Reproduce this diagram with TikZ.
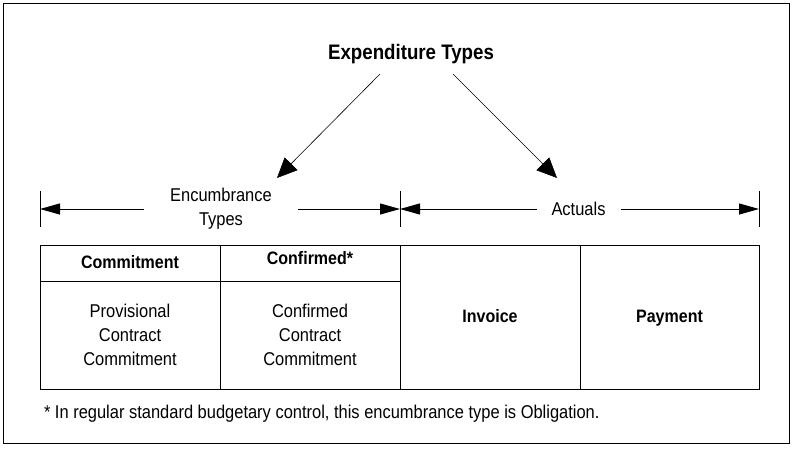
\documentclass[tikz,border=0pt]{standalone}
\usepackage{fontspec}
\setmainfont[FakeStretch=0.89]{Liberation Sans}
\usetikzlibrary{arrows.meta,calc}
\begin{document}
\begin{tikzpicture}[x=1pt,y=-1pt,
  every node/.style={inner sep=0pt,outer sep=0pt,text=black},
  reg/.style={font=\fontsize{18.5}{24}\selectfont},
  bld/.style={font=\fontsize{18}{24}\selectfont\bfseries,text height=13pt,text depth=4pt},
  cell/.style={draw,line width=1pt,anchor=north west},
  diag/.style={line width=0.6pt,-{Triangle[length=20pt,width=18pt]}},
  dim/.style={line width=1pt,-{Triangle[length=20pt,width=11pt]}},
  tick/.style={line width=1pt}]
\useasboundingbox (0,0) rectangle (797,455);
\draw[line width=1pt] (3,3) rectangle (789,443);
% title
\node[font=\fontsize{21}{24}\selectfont\bfseries,text height=15pt,text depth=5pt] (title) at (411,54) {Expenditure Types};
\coordinate (encTip) at (277,178);
\coordinate (actTip) at (557,178);
\draw[diag] ($(title.south)+(-31,10)$) -- (encTip);
\draw[diag] ($(title.south)+(42,10)$) -- (actTip);
% dimension line
\coordinate (tL) at (40,209);
\coordinate (tM) at (400,209);
\coordinate (tR) at (759,209);
\foreach \t in {tL,tM,tR} \draw[tick] ($(\t)+(0,-18)$) -- ($(\t)+(0,18)$);
\node[reg,align=center,inner xsep=26pt] (enc) at (221,209) {Encumbrance\\Types};
\node[reg,inner xsep=15pt] (act) at (578.5,209) {Actuals};
\draw[dim] (enc.west) -- (tL);
\draw[dim] (enc.east) -- (tM);
\draw[dim] (act.west) -- (tM);
\draw[dim] (act.east) -- (tR);
% table
\node[cell,minimum width=180pt,minimum height=36pt] (h1) at (40,245) {};
\node[bld] (h1t) at ($(h1.center)+(0,1)$) {Commitment};
\node[cell,minimum width=180pt,minimum height=36pt] (h2) at (220,245) {};
\node[bld] (h2t) at ($(h2.center)+(0,-3)$) {Confirmed*};
\node[cell,minimum width=180pt,minimum height=108pt] (b1) at (40,281) {};
\node[reg,align=center] (b1t) at (b1.center) {Provisional\\Contract\\Commitment};
\node[cell,minimum width=180pt,minimum height=108pt] (b2) at (220,281) {};
\node[reg,align=center] (b2t) at (b2.center) {Confirmed\\Contract\\Commitment};
\node[cell,minimum width=180pt,minimum height=144pt] (inv) at (400,245) {};
\node[bld] (invt) at ($(inv.center)+(0,1)$) {Invoice};
\node[cell,minimum width=179pt,minimum height=144pt] (pay) at (580,245) {};
\node[bld] (payt) at ($(pay.center)+(0,1)$) {Payment};
% footnote
\node[reg,anchor=west] (note) at (44,414) {* In regular standard budgetary control, this encumbrance type is Obligation.};
\end{tikzpicture}
\end{document}
